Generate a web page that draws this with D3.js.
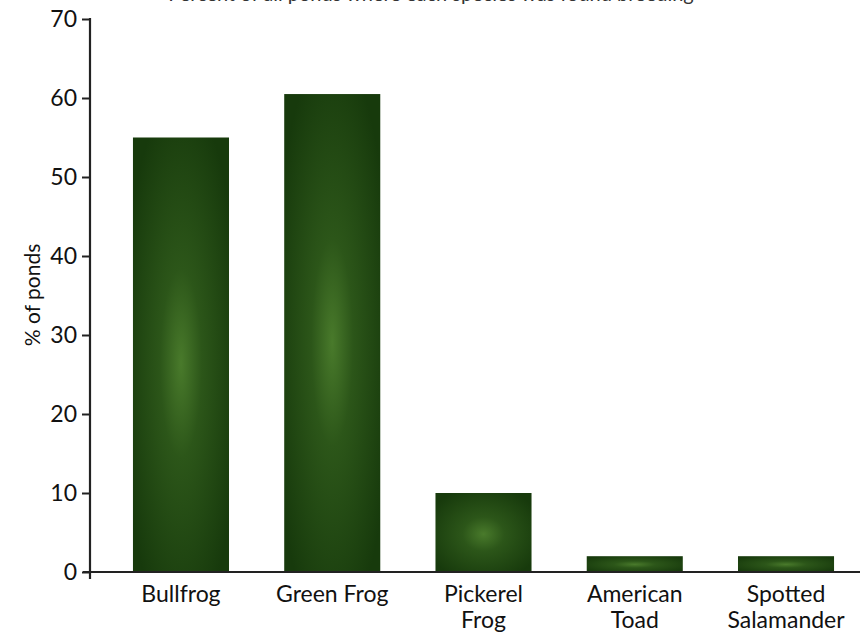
<!DOCTYPE html>
<html><head><meta charset="utf-8">
<script src="https://cdn.jsdelivr.net/npm/d3@7/dist/d3.min.js"></script>
<style>
body{margin:0;background:#fff;}
svg text{font-family:Lato,"Open Sans",sans-serif;fill:#111;}
</style></head>
<body><svg id="chart" width="860" height="633"></svg>
<script>
const title = "Percent of all ponds where each species was found breeding";
const categories = ["Bullfrog", "Green Frog", "Pickerel Frog", "American Toad", "Spotted Salamander"];
const categoryLines = [["Bullfrog"], ["Green Frog"], ["Pickerel", "Frog"], ["American", "Toad"], ["Spotted", "Salamander"]];
const values = [55, 60.5, 10, 2, 2];
const yTicks = [0, 10, 20, 30, 40, 50, 60, 70];
const yLabel = "% of ponds";

const svg = d3.select("#chart");
const x = d3.scaleBand().domain(categories).range([90, 877]).paddingInner(0.365).paddingOuter(0.284);
const y = d3.scaleLinear().domain([0, 70]).range([572, 19]);

const defs = svg.append("defs");
const grad = defs.append("radialGradient").attr("id", "glow")
  .attr("cx", "50%").attr("cy", "52%").attr("r", "62%");
grad.append("stop").attr("offset", "0%").attr("stop-color", "#497a2b");
grad.append("stop").attr("offset", "35%").attr("stop-color", "#2c5619");
grad.append("stop").attr("offset", "100%").attr("stop-color", "#173a0c");

// title (cut off at top edge as in the reference)
svg.append("text").attr("x", 431).attr("y", 1).attr("text-anchor", "middle")
  .style("font-size", "20px").style("fill", "#333").text(title);

svg.selectAll("rect.bar").data(values).join("rect").attr("class", "bar")
  .attr("x", (d, i) => x(categories[i]))
  .attr("width", x.bandwidth())
  .attr("y", d => y(d))
  .attr("height", d => y(0) - y(d))
  .attr("fill", "url(#glow)");

// y axis
const ya = svg.append("g").attr("transform", "translate(90,0)")
  .call(d3.axisLeft(y).tickValues(yTicks).tickSize(8).tickPadding(5).tickSizeOuter(0));
ya.select(".domain").remove();
ya.selectAll(".tick line").attr("stroke", "#222").attr("stroke-width", 2);
ya.selectAll(".tick text").style("font-size", "23px").style("font-family", "Lato,sans-serif").attr("fill", "#111");
svg.append("line").attr("x1", 90).attr("x2", 90).attr("y1", y(70) - 1).attr("y2", y(0) + 7)
  .attr("stroke", "#222").attr("stroke-width", 2.2);

// x axis line
svg.append("line").attr("x1", 83).attr("x2", 860).attr("y1", y(0)).attr("y2", y(0))
  .attr("stroke", "#222").attr("stroke-width", 2.2);

// category labels
const lbl = svg.selectAll("text.cat").data(categories).join("text").attr("class", "cat")
  .attr("text-anchor", "middle")
  .attr("transform", d => `translate(${x(d) + x.bandwidth() / 2},602)`)
  .style("font-size", "23px");
lbl.each(function(d, i) {
  const t = d3.select(this);
  categoryLines[i].forEach((line, j) => {
    t.append("tspan").attr("x", 0).attr("y", j * 26).text(line);
  });
});

svg.append("text").attr("transform", "translate(40,295) rotate(-90)")
  .attr("text-anchor", "middle").style("font-size", "21px").text(yLabel);
</script></body></html>
